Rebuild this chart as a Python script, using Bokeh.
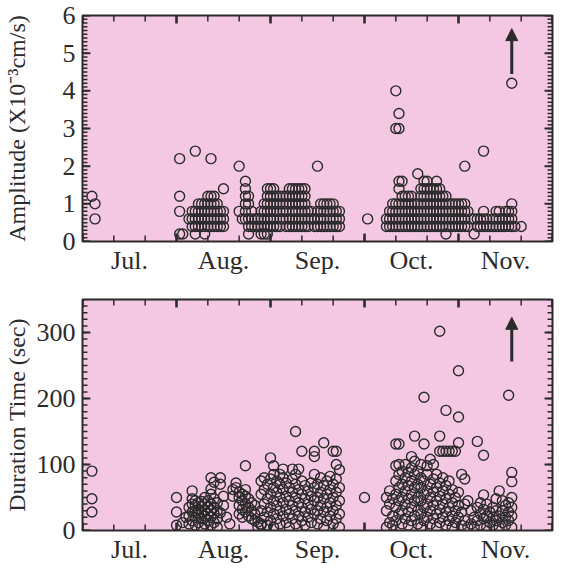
from bokeh.plotting import figure
from bokeh.models import (Range1d, LinearAxis, FixedTicker, SingleIntervalTicker,
                          Arrow, NormalHead, ColumnDataSource)
from bokeh.layouts import column
from bokeh.embed import file_html
from bokeh.resources import INLINE

# ---------------- data (x = day counted from 1 Jul, 30-day months) ----------------
month_labels = ["Jul.", "Aug.", "Sep.", "Oct.", "Nov."]

# Amplitude (x10^-3 cm/s)
amp_jul = [(3, 1.2), (4, 1.0), (4, 0.6)]
amp_aug_a = [
    (31, 0.2), (32, 0.2), (36, 0.2), (39, 0.2),
    (35, 0.4), (36, 0.4), (37, 0.4), (38, 0.4), (39, 0.4), (40, 0.4), (41, 0.4), (42, 0.4), (43, 0.4), (44, 0.4), (45, 0.4),
    (34, 0.6), (35, 0.6), (36, 0.6), (37, 0.6), (38, 0.6), (39, 0.6), (40, 0.6), (41, 0.6), (42, 0.6), (43, 0.6), (44, 0.6), (45, 0.6),
    (31, 0.8), (35, 0.8), (36, 0.8), (37, 0.8), (38, 0.8), (39, 0.8), (40, 0.8), (41, 0.8), (42, 0.8), (43, 0.8), (44, 0.8), (45, 0.8),
    (37, 1.0), (38, 1.0), (39, 1.0), (40, 1.0), (41, 1.0), (42, 1.0), (43, 1.0),
    (31, 1.2), (40, 1.2), (41, 1.2), (42, 1.2),
    (45, 1.4), (31, 2.2), (41, 2.2), (36, 2.4)]
amp_aug_b = [
    (50, 2.0), (52, 1.6), (52, 1.4), (52, 1.2), (53, 1.2), (52, 1.0), (53, 1.0),
    (50, 0.8), (52, 0.8), (54, 0.8), (51, 0.6), (52, 0.6), (53, 0.6), (54, 0.6), (55, 0.6), (56, 0.6),
    (53, 0.4), (54, 0.4), (55, 0.4), (56, 0.4), (53, 0.2)]
amp_sep = [
    (57, 0.2), (58, 0.2), (59, 0.2),
    (56, 0.4), (57, 0.4), (58, 0.4), (59, 0.4), (60, 0.4), (61, 0.4), (62, 0.4), (63, 0.4), (65, 0.4), (66, 0.4), (67, 0.4),
    (68, 0.4), (69, 0.4), (70, 0.4), (71, 0.4), (72, 0.4), (74, 0.4), (75, 0.4), (76, 0.4), (77, 0.4), (78, 0.4), (79, 0.4),
    (80, 0.4), (81, 0.4), (82, 0.4),
    (56, 0.6), (57, 0.6), (58, 0.6), (59, 0.6), (60, 0.6), (61, 0.6), (63, 0.6), (64, 0.6), (65, 0.6), (66, 0.6), (67, 0.6),
    (68, 0.6), (69, 0.6), (70, 0.6), (71, 0.6), (72, 0.6), (73, 0.6), (74, 0.6), (75, 0.6), (76, 0.6), (77, 0.6), (79, 0.6),
    (80, 0.6), (81, 0.6), (82, 0.6),
    (57, 0.8), (58, 0.8), (59, 0.8), (60, 0.8), (61, 0.8), (62, 0.8), (63, 0.8), (64, 0.8), (65, 0.8), (67, 0.8), (68, 0.8),
    (69, 0.8), (70, 0.8), (71, 0.8), (72, 0.8), (73, 0.8), (75, 0.8), (76, 0.8), (77, 0.8), (78, 0.8), (79, 0.8), (80, 0.8),
    (81, 0.8), (82, 0.8),
    (58, 1.0), (59, 1.0), (60, 1.0), (61, 1.0), (62, 1.0), (63, 1.0), (64, 1.0), (65, 1.0), (66, 1.0), (67, 1.0), (68, 1.0),
    (69, 1.0), (70, 1.0), (71, 1.0), (76, 1.0), (77, 1.0), (78, 1.0), (79, 1.0), (80, 1.0),
    (59, 1.2), (60, 1.2), (61, 1.2), (62, 1.2), (63, 1.2), (64, 1.2), (65, 1.2), (66, 1.2), (67, 1.2), (68, 1.2), (69, 1.2),
    (70, 1.2), (71, 1.2),
    (59, 1.4), (60, 1.4), (61, 1.4), (66, 1.4), (67, 1.4), (68, 1.4), (69, 1.4), (70, 1.4), (71, 1.4),
    (75, 2.0), (91, 0.6)]
amp_oct = [
    (100, 4.0), (101, 3.4), (100, 3.0), (101, 3.0), (107, 1.8),
    (101, 1.6), (102, 1.6), (109, 1.6), (110, 1.6), (113, 1.6),
    (101, 1.4), (108, 1.4), (109, 1.4), (110, 1.4), (111, 1.4), (112, 1.4), (113, 1.4), (114, 1.4),
    (102, 1.2), (103, 1.2), (104, 1.2), (105, 1.2), (108, 1.2), (109, 1.2), (110, 1.2), (111, 1.2), (112, 1.2),
    (113, 1.2), (114, 1.2), (115, 1.2), (116, 1.2),
    (99, 1.0), (100, 1.0), (101, 1.0), (102, 1.0), (103, 1.0), (104, 1.0), (105, 1.0), (106, 1.0), (107, 1.0),
    (108, 1.0), (109, 1.0), (110, 1.0), (111, 1.0), (112, 1.0), (113, 1.0), (114, 1.0), (115, 1.0), (116, 1.0),
    (117, 1.0), (118, 1.0), (119, 1.0), (120, 1.0), (121, 1.0), (122, 1.0),
    (98, 0.8), (99, 0.8), (100, 0.8), (101, 0.8), (102, 0.8), (103, 0.8), (104, 0.8), (105, 0.8), (106, 0.8),
    (107, 0.8), (108, 0.8), (109, 0.8), (110, 0.8), (111, 0.8), (112, 0.8), (113, 0.8), (114, 0.8), (115, 0.8),
    (116, 0.8), (117, 0.8), (118, 0.8), (119, 0.8), (120, 0.8), (121, 0.8), (122, 0.8), (123, 0.8),
    (97, 0.6), (98, 0.6), (99, 0.6), (100, 0.6), (101, 0.6), (102, 0.6), (103, 0.6), (104, 0.6), (105, 0.6),
    (106, 0.6), (107, 0.6), (108, 0.6), (109, 0.6), (110, 0.6), (111, 0.6), (112, 0.6), (113, 0.6), (114, 0.6),
    (115, 0.6), (116, 0.6), (117, 0.6), (118, 0.6), (119, 0.6), (120, 0.6), (121, 0.6), (122, 0.6), (124, 0.6),
    (97, 0.4), (98, 0.4), (99, 0.4), (100, 0.4), (101, 0.4), (102, 0.4), (103, 0.4), (104, 0.4), (105, 0.4),
    (106, 0.4), (107, 0.4), (108, 0.4), (109, 0.4), (110, 0.4), (111, 0.4), (112, 0.4), (113, 0.4), (114, 0.4),
    (115, 0.4), (116, 0.4), (117, 0.4), (118, 0.4), (119, 0.4), (120, 0.4), (121, 0.4), (122, 0.4), (123, 0.4),
    (116, 0.2), (125, 0.2)]
amp_nov = [
    (128, 0.8), (132, 0.8), (133, 0.8), (135, 0.8), (136, 0.8), (137, 0.8), (137, 1.0),
    (125, 0.6), (126, 0.6), (127, 0.6), (128, 0.6), (129, 0.6), (131, 0.6), (132, 0.6), (133, 0.6), (134, 0.6),
    (135, 0.6), (136, 0.6), (137, 0.6),
    (126, 0.4), (127, 0.4), (128, 0.4), (129, 0.4), (130, 0.4), (131, 0.4), (132, 0.4), (133, 0.4), (134, 0.4),
    (135, 0.4), (136, 0.4), (137, 0.4), (138, 0.4), (140, 0.4),
    (122, 2.0), (128, 2.4), (137, 4.2)]

# Duration time (sec)
dur_jul = [(3, 90), (3, 48), (3, 28)]
dur_aug_a = [
    (30, 50), (30, 28), (30, 8), (32, 12), (33, 20), (35, 60), (41, 80), (44, 80), (42, 73), (44, 70), (41, 63),
    (45, 52), (44, 27), (45, 38), (46, 20),
    (34, 10), (34, 22), (34, 35), (35, 15), (35, 28), (35, 40), (35, 48), (36, 8), (36, 20), (36, 30), (36, 38),
    (36, 45), (37, 12), (37, 25), (37, 32), (37, 42), (38, 5), (38, 18), (38, 28), (38, 36), (38, 44), (39, 10),
    (39, 22), (39, 30), (39, 40), (39, 50), (40, 15), (40, 25), (40, 35), (40, 45), (41, 8), (41, 20), (41, 30),
    (41, 40), (41, 55), (42, 12), (42, 25), (42, 35), (42, 48), (43, 5), (43, 18), (43, 30), (43, 42)]
dur_aug_b = [
    (48, 62), (48, 52), (49, 72), (49, 65), (52, 98), (47, 10),
    (50, 25), (50, 38), (50, 50), (50, 58), (51, 20), (51, 32), (51, 45), (51, 55), (52, 28), (52, 40), (52, 52),
    (52, 62), (53, 22), (53, 35), (53, 48), (54, 18), (54, 30), (54, 42), (55, 15), (55, 25), (55, 38),
    (56, 13), (56, 5), (57, 8)]
dur_sep = [
    (68, 150), (70, 120), (74, 120), (77, 133), (80, 120), (81, 120), (74, 112), (60, 110), (61, 98), (64, 93),
    (67, 93), (69, 93), (81, 100), (82, 92), (63, 85),
    (57, 10), (57, 30), (57, 55), (57, 75), (58, 20), (58, 40), (58, 62), (58, 80), (59, 8), (59, 28), (59, 48),
    (59, 70), (60, 15), (60, 35), (60, 55), (60, 78), (61, 5), (61, 25), (61, 45), (61, 65), (61, 85), (62, 18),
    (62, 38), (62, 58), (62, 75), (63, 10), (63, 30), (63, 50), (63, 70), (64, 22), (64, 42), (64, 62), (64, 80),
    (65, 12), (65, 32), (65, 52), (65, 72), (66, 5), (66, 25), (66, 45), (66, 65), (67, 18), (67, 38), (67, 58),
    (67, 78), (68, 10), (68, 30), (68, 50), (68, 70), (68, 85), (69, 22), (69, 42), (69, 62), (70, 15), (70, 35),
    (70, 55), (70, 75), (71, 8), (71, 28), (71, 48), (71, 68), (72, 20), (72, 40), (72, 60), (73, 12), (73, 32),
    (73, 52), (73, 72), (74, 25), (74, 45), (74, 65), (74, 85), (75, 10), (75, 30), (75, 50), (75, 70), (76, 18),
    (76, 38), (76, 58), (76, 80), (77, 5), (77, 28), (77, 48), (77, 68), (78, 15), (78, 35), (78, 55), (78, 75),
    (79, 22), (79, 42), (79, 62), (79, 82), (80, 10), (80, 30), (80, 50), (80, 70), (81, 18), (81, 38), (81, 58),
    (81, 78), (82, 5), (82, 25), (82, 45), (82, 65),
    (90, 50)]
dur_oct = [
    (114, 302), (120, 242), (109, 202), (116, 182), (120, 172), (100, 131), (101, 131), (106, 143), (109, 131),
    (114, 143), (120, 133), (121, 85), (122, 78), (111, 108), (105, 112),
    (114, 120), (115, 120), (116, 120), (117, 120), (118, 120), (119, 120),
    (97, 5), (97, 30), (97, 50), (98, 12), (98, 40), (98, 60), (99, 8), (99, 22), (99, 48),
    (100, 15), (100, 35), (100, 55), (100, 75), (100, 98), (101, 25), (101, 45), (101, 65), (101, 85), (101, 100),
    (102, 10), (102, 30), (102, 50), (102, 70), (102, 90), (103, 18), (103, 40), (103, 60), (103, 80), (103, 100),
    (104, 8), (104, 28), (104, 48), (104, 68), (104, 88), (105, 15), (105, 35), (105, 55), (105, 75), (105, 95),
    (106, 22), (106, 45), (106, 65), (106, 85), (106, 105), (107, 10), (107, 30), (107, 50), (107, 70), (107, 90),
    (108, 5), (108, 25), (108, 45), (108, 65), (108, 80), (108, 100), (109, 15), (109, 35), (109, 55), (109, 75),
    (110, 20), (110, 40), (110, 60), (110, 85), (110, 98), (111, 10), (111, 30), (111, 50), (111, 70),
    (112, 18), (112, 38), (112, 58), (112, 78), (112, 100), (113, 5), (113, 25), (113, 45), (113, 65), (113, 85),
    (114, 12), (114, 32), (114, 52), (114, 72), (115, 20), (115, 40), (115, 60), (115, 80), (116, 8), (116, 28),
    (116, 48), (116, 68), (117, 15), (117, 35), (117, 55), (117, 75), (118, 5), (118, 22), (118, 42), (118, 62),
    (119, 12), (119, 30), (119, 50), (120, 20), (120, 38), (120, 58), (121, 8), (121, 28), (122, 15), (122, 40),
    (123, 5)]
dur_nov = [
    (137, 88), (137, 74), (133, 60), (128, 54), (123, 45), (126, 135), (128, 114), (136, 205),
    (124, 10), (124, 30), (125, 20), (125, 5), (126, 15), (126, 35), (127, 8), (127, 25), (127, 42), (128, 18),
    (128, 32), (129, 5), (129, 22), (129, 40), (130, 12), (130, 28), (131, 8), (131, 20), (131, 35), (132, 15),
    (132, 30), (132, 48), (133, 5), (133, 22), (134, 12), (134, 30), (134, 45), (135, 8), (135, 20), (135, 38),
    (136, 15), (136, 28), (136, 42), (137, 5), (137, 22), (137, 35), (137, 50)]

# off-scale arrows (x, y_start, y_end)
amp_arrow = (137, 4.45, 5.65)
dur_arrow = (137, 256, 323)

# ---------------- styling ----------------
FONT = "Liberation Serif"
INK = "#2b2b2b"
PINK = "#f4c8e2"
X_MAX = 150
FIG_W = 555
MB_LEFT, MB_RIGHT = 80, 3
month_edges = [0, 30, 60, 90, 120, 150]
ten_days = list(range(0, 151, 10))
month_mid = [15 + 30 * i for i in range(len(month_labels))]


def make_panel(points, yrange, yinterval, n_minor, ylabel, label_standoff, arrow,
               height, mb_top, mb_bottom):
    xs = [p[0] for p in points]
    ys = [p[1] for p in points]
    src = ColumnDataSource(dict(d=xs, v=ys))
    y0, y1 = yrange
    p = figure(width=FIG_W, height=height, x_range=Range1d(0, X_MAX),
               y_range=Range1d(y0, y1), x_axis_location=None, y_axis_location=None,
               output_backend="svg", toolbar_location=None,
               min_border_left=MB_LEFT, min_border_right=MB_RIGHT,
               min_border_top=mb_top, min_border_bottom=mb_bottom,
               background_fill_color=PINK, border_fill_color="white",
               outline_line_color=INK, outline_line_width=2)
    p.grid.visible = False

    # left axis: labels only
    yl = LinearAxis(ticker=SingleIntervalTicker(interval=yinterval), axis_label=ylabel)
    yl.axis_line_color = None
    yl.major_tick_in = 0
    yl.major_tick_out = 0
    yl.minor_tick_in = 0
    yl.minor_tick_out = 0
    yl.major_label_text_font = FONT
    yl.major_label_text_font_size = "26px"
    yl.major_label_text_color = INK
    yl.major_label_standoff = 7
    yl.axis_label_text_font = FONT
    yl.axis_label_text_font_size = "24px"
    yl.axis_label_text_font_style = "normal"
    yl.axis_label_text_color = INK
    yl.axis_label_standoff = label_standoff
    p.add_layout(yl, "left")

    # bottom month names
    xl = LinearAxis(ticker=FixedTicker(ticks=month_mid, minor_ticks=[]),
                    major_label_overrides={m: lab for m, lab in zip(month_mid, month_labels)})
    xl.axis_line_color = None
    xl.major_tick_in = 0
    xl.major_tick_out = 0
    xl.minor_tick_in = 0
    xl.minor_tick_out = 0
    xl.major_label_text_font = FONT
    xl.major_label_text_font_size = "26px"
    xl.major_label_text_color = INK
    xl.major_label_standoff = 4
    p.add_layout(xl, "below")

    # inward tick marks on all four sides (length given in screen pixels)
    frame_w = FIG_W - MB_LEFT - MB_RIGHT
    frame_h = height - mb_top - mb_bottom
    dx = X_MAX / frame_w
    dy = (y1 - y0) / frame_h
    step = yinterval / n_minor
    n_steps = int(round((y1 - y0) / step))
    y_minor = [y0 + i * step for i in range(n_steps + 1)]
    y_major = [v for i, v in enumerate(y_minor) if i % n_minor == 0]

    def yticks(vals, length, width):
        for edge, sgn in ((0, 1), (X_MAX, -1)):
            p.segment(x0=[edge] * len(vals), y0=vals,
                      x1=[edge + sgn * length * dx] * len(vals), y1=vals,
                      line_color=INK, line_width=width)

    def xticks(vals, length, width):
        for edge, sgn in ((y0, 1), (y1, -1)):
            p.segment(x0=vals, y0=[edge] * len(vals),
                      x1=vals, y1=[edge + sgn * length * dy] * len(vals),
                      line_color=INK, line_width=width)

    yticks(y_minor, 5, 1.5)
    yticks(y_major, 8, 2)
    xticks(ten_days, 6, 1.5)
    xticks(month_edges, 8, 2.5)

    p.scatter(x="d", y="v", source=src, marker="circle", size=10,
              fill_color=None, line_color=INK, line_width=1.4)

    ax_x, a0, a1 = arrow
    p.add_layout(Arrow(end=NormalHead(size=12, fill_color=INK, line_color=INK, line_width=1),
                       x_start=ax_x, y_start=a0, x_end=ax_x, y_end=a1,
                       line_color=INK, line_width=3))
    return p


amp_points = amp_jul + amp_aug_a + amp_aug_b + amp_sep + amp_oct + amp_nov
dur_points = dur_jul + dur_aug_a + dur_aug_b + dur_sep + dur_oct + dur_nov

p1 = make_panel(amp_points, (0, 6), 1, 10, "Amplitude (X10\u207b\u00b3cm/s)", 30, amp_arrow,
                280, 15, 39)
p2 = make_panel(dur_points, (0, 350), 100, 10, "Duration Time (sec)", 4, dur_arrow,
                286, 19, 33)

layout = column(p1, p2)
open("out.html", "w").write(file_html(layout, INLINE))
